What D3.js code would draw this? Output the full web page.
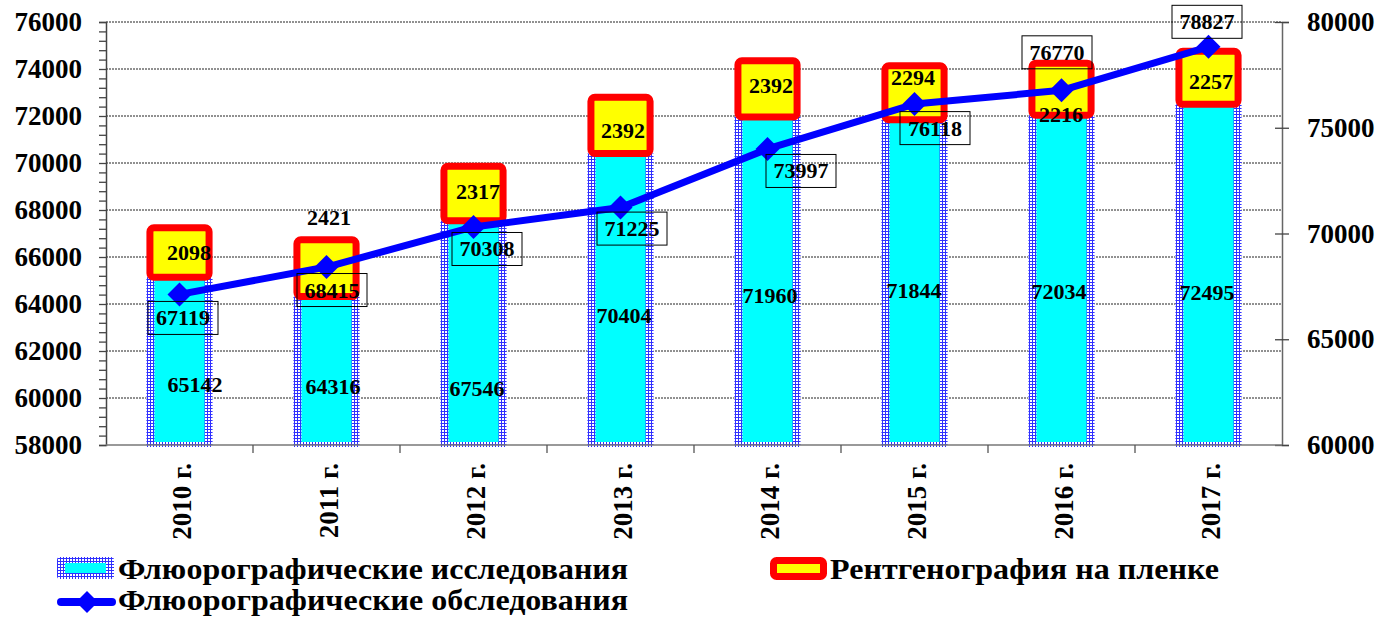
<!DOCTYPE html>
<html><head><meta charset="utf-8">
<script src="https://cdn.jsdelivr.net/npm/d3@7"></script>
<style>
body{margin:0;background:#fff}
text{font-family:"Liberation Serif","Times New Roman",serif;font-weight:bold;fill:#000}
</style>
</head><body>
<svg id="c" width="1379" height="618"></svg>
<script>
// ---------- data ----------
const years = ["2010 г.", "2011 г.", "2012 г.", "2013 г.", "2014 г.", "2015 г.", "2016 г.", "2017 г."];
const fluoroStudies = [65142, 64316, 67546, 70404, 71960, 71844, 72034, 72495];
const filmXray      = [2098, 2421, 2317, 2392, 2392, 2294, 2216, 2257];
const fluoroExams   = [67119, 68415, 70308, 71225, 73997, 76118, 76770, 78827];
const leftTicks  = [58000, 60000, 62000, 64000, 66000, 68000, 70000, 72000, 74000, 76000];
const rightTicks = [60000, 65000, 70000, 75000, 80000];
const seriesNames = ["Флюорографические исследования", "Рентгенография на пленке", "Флюорографические обследования"];
// manual data-label nudges (px) as placed in the original
const studyLabelNudge = [[15.5,23],[6.5,16],[3.5,56],[3.5,16],[2.5,15],[-0.5,8],[-2.5,11],[-1.5,18]];
const filmLabelNudge  = [[9.5,0],[2.5,-51],[4.5,-2],[2.5,5],[3.5,-3],[-1.5,-15],[-0.5,25],[2.5,4]];
const examLabelNudge  = [[3.5,23.5],[5.5,23],[13.5,22],[11.5,21],[33.5,22],[20.5,24],[-4.5,-38],[-1.5,-25]];

// ---------- layout ----------
const L = 106, R = 1282, T = 22, B = 445;
const svg = d3.select("#c");

const x = d3.scaleBand().domain(years).range([L, R]).paddingInner(0.55).paddingOuter(0.275);
const yL = d3.scaleLinear().domain([58000, 76000]).range([B, T]);
const yR = d3.scaleLinear().domain([60000, 80000]).range([B, T]);
const cx = d => x(d) + x.bandwidth() / 2;

// pattern (blue with white dots)
const defs = svg.append("defs");
const pat = defs.append("pattern").attr("id", "chk").attr("patternUnits", "userSpaceOnUse")
  .attr("width", 3).attr("height", 3);
pat.append("rect").attr("width", 3).attr("height", 3).attr("fill", "#3030ff");
pat.append("rect").attr("x", 1).attr("y", 1).attr("width", 2).attr("height", 2).attr("fill", "#ffffff");

// gridlines
svg.append("g").selectAll("line").data(leftTicks.filter(v => v > 58000)).join("line")
  .attr("x1", L).attr("x2", R).attr("y1", d => yL(d)).attr("y2", d => yL(d))
  .attr("stroke", "#222").attr("stroke-width", 1).attr("stroke-dasharray", "2,1");

// left axis
const gl = svg.append("g").attr("transform", `translate(${L},0)`)
  .call(d3.axisLeft(yL).tickValues(d3.range(58000, 76001, 400)).tickSize(7).tickFormat(""));
gl.select(".domain").attr("stroke", "#444").attr("stroke-width", 1.5);
gl.selectAll(".tick line").attr("stroke", "#444").attr("stroke-width", 1.3);
svg.append("g").selectAll("text").data(leftTicks).join("text")
  .attr("x", 82).attr("y", d => yL(d)).attr("text-anchor", "end").attr("dominant-baseline", "central")
  .attr("font-size", 27).text(d => d);

// right axis
const gr = svg.append("g").attr("transform", `translate(${R},0)`)
  .call(d3.axisRight(yR).tickValues(rightTicks).tickSize(7).tickFormat(""));
gr.select(".domain").attr("stroke", "#666").attr("stroke-width", 1.5);
gr.selectAll(".tick line").attr("stroke", "#444").attr("stroke-width", 1.3).attr("x1", -7);
svg.append("g").selectAll("text").data(rightTicks).join("text")
  .attr("x", 1307).attr("y", d => yR(d)).attr("dominant-baseline", "central")
  .attr("font-size", 27).text(d => d);

// bars: studies
const bars = svg.append("g");
bars.selectAll("rect.o").data(years).join("rect").attr("class", "o")
  .attr("x", d => x(d)).attr("width", x.bandwidth())
  .attr("y", (d, i) => yL(fluoroStudies[i])).attr("height", (d, i) => yL(58000) + 2 - yL(fluoroStudies[i]))
  .attr("fill", "url(#chk)");
bars.selectAll("rect.i").data(years).join("rect").attr("class", "i")
  .attr("x", d => x(d) + 8).attr("width", x.bandwidth() - 16)
  .attr("y", (d, i) => yL(fluoroStudies[i])).attr("height", (d, i) => yL(58000) - 3 - yL(fluoroStudies[i]))
  .attr("fill", "#00ffff");

// x axis
const gx = svg.append("g").attr("transform", `translate(0,${B})`);
gx.append("line").attr("x1", L).attr("x2", R).attr("stroke", "#777").attr("stroke-width", 1.5);
gx.selectAll("line.t").data(years.slice(1)).join("line").attr("class", "t")
  .attr("x1", d => x(d) - x.step() * x.paddingInner() / 2).attr("x2", d => x(d) - x.step() * x.paddingInner() / 2)
  .attr("y1", 0).attr("y2", 8).attr("stroke", "#555").attr("stroke-width", 1.3);
svg.append("g").selectAll("text").data(years).join("text")
  .attr("transform", d => `translate(${cx(d) + 2},463) rotate(-90)`)
  .attr("text-anchor", "end").attr("dominant-baseline", "central").attr("font-size", 27).text(d => d);

// stacked film boxes
svg.append("g").selectAll("rect").data(years).join("rect")
  .attr("x", d => x(d) + 3.5).attr("width", x.bandwidth() - 7)
  .attr("y", (d, i) => yL(fluoroStudies[i] + filmXray[i]))
  .attr("height", (d, i) => yL(fluoroStudies[i]) - yL(fluoroStudies[i] + filmXray[i]))
  .attr("rx", 4).attr("fill", "#ffff00").attr("stroke", "#ff0000").attr("stroke-width", 7);

// line
const line = d3.line().x((d, i) => cx(years[i])).y(d => yR(d));
svg.append("path").datum(fluoroExams).attr("d", line).attr("fill", "none")
  .attr("stroke", "#0000ff").attr("stroke-width", 7).attr("stroke-linejoin", "round");
const diamond = r => `M0,${-r}L${r},0L0,${r}L${-r},0Z`;
svg.append("g").selectAll("path").data(fluoroExams).join("path")
  .attr("transform", (d, i) => `translate(${cx(years[i])},${yR(d)})`)
  .attr("d", diamond(12)).attr("fill", "#0000ff");

// labels: studies
svg.append("g").selectAll("text").data(fluoroStudies).join("text")
  .attr("x", (d, i) => cx(years[i]) + studyLabelNudge[i][0])
  .attr("y", (d, i) => (yL(58000) + yL(d)) / 2 + studyLabelNudge[i][1])
  .attr("text-anchor", "middle").attr("dominant-baseline", "central").attr("font-size", 22).text(d => d);
// labels: film
svg.append("g").selectAll("text").data(filmXray).join("text")
  .attr("x", (d, i) => cx(years[i]) + filmLabelNudge[i][0])
  .attr("y", (d, i) => (yL(fluoroStudies[i]) + yL(fluoroStudies[i] + d)) / 2 + filmLabelNudge[i][1])
  .attr("text-anchor", "middle").attr("dominant-baseline", "central").attr("font-size", 22).text(d => d);
// labels: exams (boxed)
const el = svg.append("g").selectAll("g").data(fluoroExams).join("g")
  .attr("transform", (d, i) => `translate(${cx(years[i]) + examLabelNudge[i][0]},${yR(d) + examLabelNudge[i][1]})`);
el.append("rect").attr("x", -35).attr("y", -16.5).attr("width", 70).attr("height", 33)
  .attr("fill", "none").attr("stroke", "#000").attr("stroke-width", 1);
el.append("text").attr("text-anchor", "middle").attr("dominant-baseline", "central")
  .attr("font-size", 22).text(d => d);

// legend
const lg = svg.append("g");
lg.append("rect").attr("x", 57).attr("y", 557).attr("width", 57).attr("height", 22).attr("rx", 3).attr("fill", "url(#chk)");
lg.append("rect").attr("x", 65).attr("y", 563).attr("width", 41).attr("height", 10).attr("fill", "#00ffff");
lg.append("text").attr("x", 118).attr("y", 569).attr("dominant-baseline", "central").attr("font-size", 29)
  .attr("textLength", 510).attr("lengthAdjust", "spacingAndGlyphs").text(seriesNames[0]);
lg.append("line").attr("x1", 61).attr("x2", 112).attr("y1", 602).attr("y2", 602)
  .attr("stroke", "#0000ff").attr("stroke-width", 8).attr("stroke-linecap", "round");
lg.append("path").attr("transform", "translate(87,602)").attr("d", diamond(11)).attr("fill", "#0000ff");
lg.append("text").attr("x", 118).attr("y", 600).attr("dominant-baseline", "central").attr("font-size", 29)
  .attr("textLength", 510).attr("lengthAdjust", "spacingAndGlyphs").text(seriesNames[2]);
lg.append("rect").attr("x", 773.5).attr("y", 560.5).attr("width", 50).attr("height", 16).attr("rx", 3)
  .attr("fill", "#ffff00").attr("stroke", "#ff0000").attr("stroke-width", 7);
lg.append("text").attr("x", 830).attr("y", 569).attr("dominant-baseline", "central").attr("font-size", 29)
  .attr("textLength", 389).attr("lengthAdjust", "spacingAndGlyphs").text(seriesNames[1]);
</script>
</body></html>
